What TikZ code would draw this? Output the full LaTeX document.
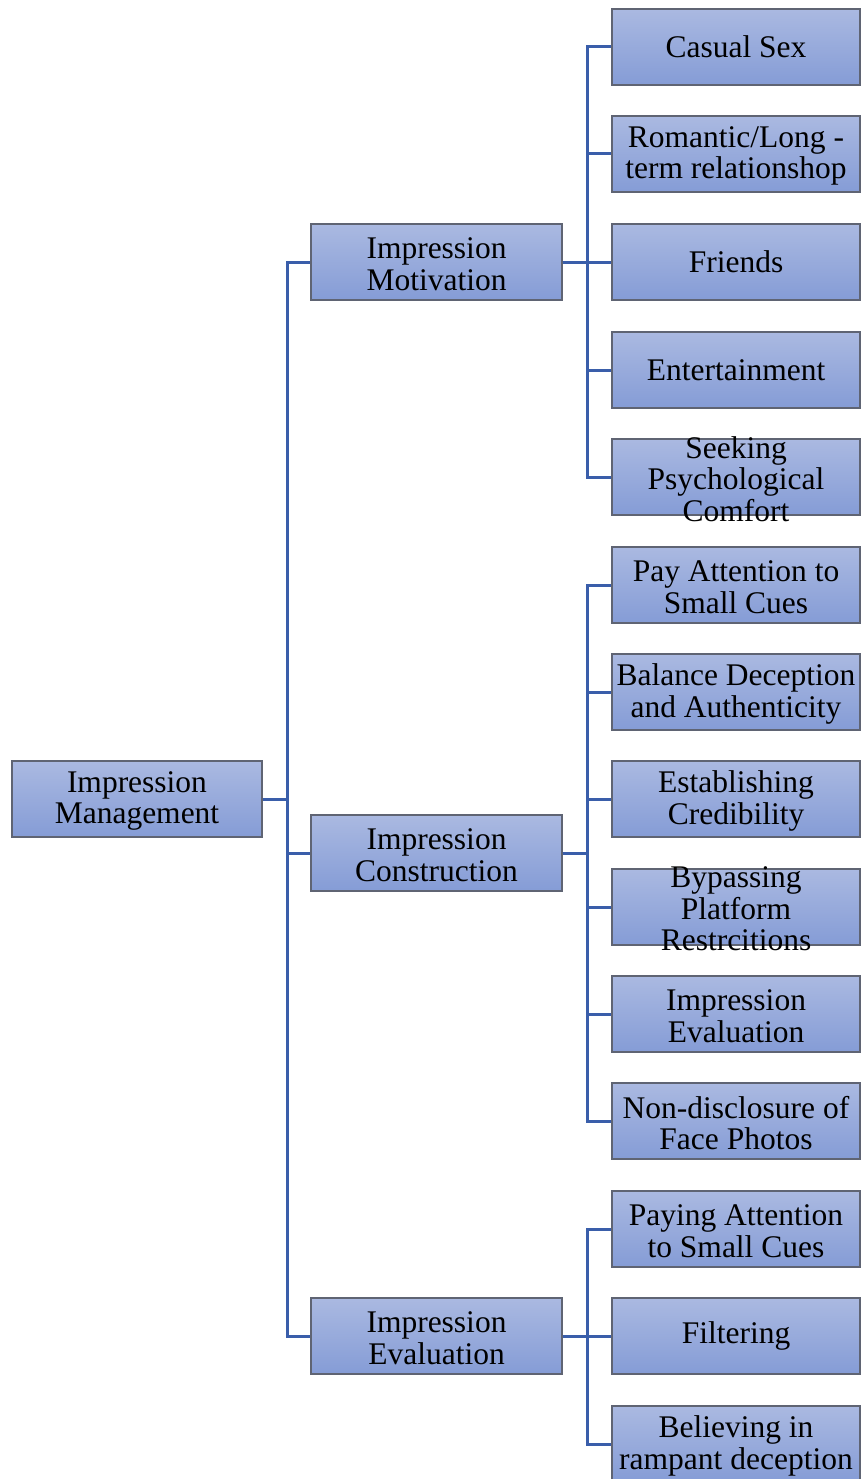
\documentclass[tikz,border=0pt]{standalone}
\usepackage{fontspec}
\setmainfont{Liberation Serif}
\definecolor{boxtop}{RGB}{170,185,225}
\definecolor{boxbot}{RGB}{133,156,214}
\definecolor{boxline}{RGB}{95,100,115}
\definecolor{connblue}{RGB}{58,94,170}
\newcommand{\bx}[2]{\parbox[c][76pt][c]{#1}{\vspace*{4pt}\centering #2}}
\newcommand{\bxs}[2]{\parbox[c][76pt][c]{#1}{\centering #2}}
\tikzset{
  box/.style={draw=boxline, line width=1.2pt, top color=boxtop, bottom color=boxbot, inner sep=0pt, font=\fontsize{31.5}{31.5}\selectfont},
  conn/.style={draw=connblue, line width=3pt}
}
\begin{document}
\begin{tikzpicture}[x=1pt,y=1pt]
\useasboundingbox (0,0) rectangle (861,-1479);
% root
\node[box] (root) at (137,-799) {\bx{250pt}{Impression\\Management}};
% level 1
\node[box] (mot) at (436.5,-262) {\bx{251pt}{Impression\\Motivation}};
\node[box] (con) at (436.5,-853) {\bx{251pt}{Impression\\Construction}};
\node[box] (eva) at (436.5,-1336) {\bx{251pt}{Impression\\Evaluation}};
% leaves
\node[box] (l1) at (736,-47) {\bxs{248pt}{Casual Sex}};
\node[box] (l2) at (736,-154) {\bx{248pt}{Romantic/Long -\\term relationshop}};
\node[box] (l3) at (736,-262) {\bxs{248pt}{Friends}};
\node[box] (l4) at (736,-370) {\bxs{248pt}{Entertainment}};
\node[box] (l5) at (736,-477) {\bx{248pt}{Seeking\\Psychological\\Comfort}};
\node[box] (l6) at (736,-585) {\bx{248pt}{Pay Attention to\\Small Cues}};
\node[box] (l7) at (736,-692) {\bx{248pt}{Balance Deception\\and Authenticity}};
\node[box] (l8) at (736,-799) {\bx{248pt}{Establishing\\Credibility}};
\node[box] (l9) at (736,-907) {\bx{248pt}{Bypassing\\Platform\\Restrcitions}};
\node[box] (l10) at (736,-1014) {\bx{248pt}{Impression\\Evaluation}};
\node[box] (l11) at (736,-1121) {\bx{248pt}{Non-disclosure of\\Face Photos}};
\node[box] (l12) at (736,-1229) {\bx{248pt}{Paying Attention\\to Small Cues}};
\node[box] (l13) at (736,-1336) {\bxs{248pt}{Filtering}};
\node[box] (l14) at (736,-1444) {\bx{248pt}{Believing in\\rampant deception}};
% connectors
\foreach \t in {mot,con,eva} \draw[conn] (root.east) -- ++(24.5,0) |- (\t.west);
\foreach \t in {l1,l2,l3,l4,l5} \draw[conn] (mot.east) -- ++(24.5,0) |- (\t.west);
\foreach \t in {l6,l7,l8,l9,l10,l11} \draw[conn] (con.east) -- ++(24.5,0) |- (\t.west);
\foreach \t in {l12,l13,l14} \draw[conn] (eva.east) -- ++(24.5,0) |- (\t.west);
\end{tikzpicture}
\end{document}
